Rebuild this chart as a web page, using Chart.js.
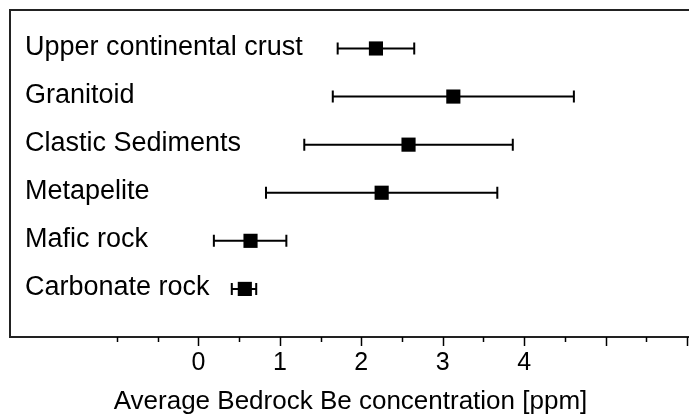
<!DOCTYPE html>
<html>
<head>
<meta charset="utf-8">
<script src="https://cdn.jsdelivr.net/npm/chart.js@4"></script>
<style>
  html, body { margin: 0; padding: 0; background: #fff; overflow: hidden; width: 689px; height: 417px; }
  #beChart { display: block; }
</style>
</head>
<body>
<canvas id="beChart" width="701" height="417"></canvas>
<script>
// Rock types, top to bottom
const categories = ['Upper continental crust', 'Granitoid', 'Clastic Sediments', 'Metapelite', 'Mafic rock', 'Carbonate rock'];
// Mean Be concentration [ppm] and error bar ends
const means = [2.18, 3.13, 2.58, 2.25, 0.64, 0.57];
const lows = [1.71, 1.65, 1.30, 0.83, 0.19, 0.41];
const highs = [2.65, 4.61, 3.86, 3.67, 1.08, 0.71];
// Axis ticks
const xTickLabels = [0, 1, 2, 3, 4];
const xMarkTicks = [-1, -0.5, 0, 0.5, 1, 1.5, 2, 2.5, 3, 3.5, 4, 4.5, 5, 5.5, 6];

const XMIN = -2.313, XMAX = 6.048;
const YMIN = 0, YMAX = 6.8;

// row index -> y value (top row highest)
const rowY = categories.map((c, i) => categories.length - i);

const points = means.map((m, i) => ({ x: m, y: rowY[i] }));

const frameAndBars = {
  id: 'frameAndBars',
  beforeDatasetsDraw(chart) {
    const { ctx, chartArea, scales } = chart;
    const xs = scales.x, ys = scales.y;
    ctx.save();
    // frame (top, left, bottom) - right side is cut off in the original
    ctx.strokeStyle = '#222';
    ctx.lineWidth = 2;
    ctx.beginPath();
    ctx.moveTo(chartArea.right, chartArea.top);
    ctx.lineTo(chartArea.left, chartArea.top);
    ctx.lineTo(chartArea.left, chartArea.bottom);
    ctx.lineTo(chartArea.right, chartArea.bottom);
    ctx.stroke();

    // tick marks
    ctx.strokeStyle = '#000';
    ctx.lineWidth = 1.5;
    xMarkTicks.forEach(v => {
      const px = Math.round(xs.getPixelForValue(v)) + 0.5;
      const major = Number.isInteger(v) && v >= 0;
      ctx.beginPath();
      ctx.moveTo(px, chartArea.bottom);
      ctx.lineTo(px, chartArea.bottom + (major ? 9 : 5));
      ctx.stroke();
    });

    // error bars
    ctx.strokeStyle = '#000';
    ctx.lineWidth = 2;
    categories.forEach((c, i) => {
      const y = ys.getPixelForValue(rowY[i]);
      const x1 = xs.getPixelForValue(lows[i]);
      const x2 = xs.getPixelForValue(highs[i]);
      ctx.beginPath();
      ctx.moveTo(x1, y);
      ctx.lineTo(x2, y);
      ctx.moveTo(x1, y - 6);
      ctx.lineTo(x1, y + 6);
      ctx.moveTo(x2, y - 6);
      ctx.lineTo(x2, y + 6);
      ctx.stroke();
    });

    // category labels
    ctx.fillStyle = '#000';
    ctx.font = '27px "Liberation Sans", Arial, sans-serif';
    ctx.textBaseline = 'middle';
    ctx.textAlign = 'left';
    categories.forEach((c, i) => {
      ctx.fillText(c, 25, ys.getPixelForValue(rowY[i]) - 1);
    });
    ctx.restore();
  }
};

new Chart(document.getElementById('beChart'), {
  type: 'scatter',
  data: {
    datasets: [{
      data: points,
      pointStyle: 'rect',
      pointRadius: 10,
      pointHoverRadius: 10,
      backgroundColor: '#000',
      borderColor: '#000',
      borderWidth: 0
    }]
  },
  options: {
    responsive: false,
    animation: false,
    devicePixelRatio: 1,
    layout: { padding: { left: 7, top: 9, right: 0, bottom: 0 } },
    plugins: { legend: { display: false }, tooltip: { enabled: false } },
    scales: {
      x: {
        type: 'linear',
        min: XMIN,
        max: XMAX,
        grid: { display: false, drawTicks: false },
        border: { display: false },
        afterBuildTicks: (scale) => { scale.ticks = xTickLabels.map(v => ({ value: v })); },
        ticks: {
          color: '#000',
          padding: 13.5,
          font: { family: '"Liberation Sans", Arial, sans-serif', size: 25, lineHeight: 1 },
          maxRotation: 0
        },
        title: {
          display: true,
          text: 'Average Bedrock Be concentration [ppm]',
          color: '#000',
          font: { family: '"Liberation Sans", Arial, sans-serif', size: 26, lineHeight: 1 },
          padding: { top: 0, bottom: 2 }
        }
      },
      y: {
        type: 'linear',
        display: false,
        min: YMIN,
        max: YMAX
      }
    }
  },
  plugins: [frameAndBars]
});
</script>
</body>
</html>
